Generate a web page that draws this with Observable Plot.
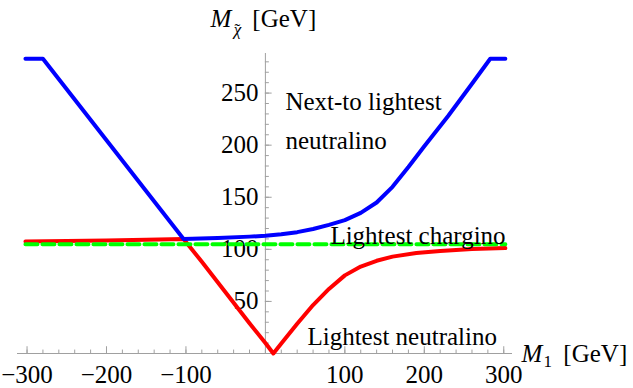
<!DOCTYPE html>
<html>
<head>
<meta charset="utf-8">
<script src="https://cdn.jsdelivr.net/npm/d3@7"></script>
<script src="https://cdn.jsdelivr.net/npm/@observablehq/plot@0.6"></script>
<style>
  html, body { margin: 0; padding: 0; background: #fff; }
  #chart svg { display: block; }
  #chart svg text, #chart svg g, svg[class] text { font-family: "Liberation Serif", serif !important; }
</style>
</head>
<body>
<div id="chart"></div>
<script>
// Next-to-lightest neutralino (blue)
const blueM1   = [-302, -280, -103, -60, -20, 0, 20, 40, 60, 80, 100, 120, 140, 160, 180, 200, 230, 260, 283, 302];
const blueMass = [283, 283, 110, 110.8, 112.2, 113, 114.5, 116.5, 119.5, 123.5, 128, 135, 145, 160, 179, 199, 228, 259, 283, 283];
// Lightest neutralino (red)
const redM1   = [-302, -250, -200, -150, -103, -80, -50, -20, 0, 10, 20, 40, 60, 80, 100, 120, 140, 160, 190, 220, 260, 302];
const redMass = [107.5, 108, 108.5, 109.2, 110, 88, 58.5, 29, 10, 0, 9.5, 28.5, 46.5, 62, 75, 83.5, 89, 93, 96.5, 98.5, 100.3, 101.2];
// Lightest chargino (green, dashed)
const charginoM1   = [-302, 302];
const charginoMass = [105, 105];

const xTicks = [-300, -200, -100, 100, 200, 300];
const xTickLabels = ["\u2212300", "\u2212200", "\u2212100", "100", "200", "300"];
const yTicks = [50, 100, 150, 200, 250];
const yTickLabels = ["50", "100", "150", "200", "250"];
const xMinor = d3.range(-300, 301, 20);
const yMinor = d3.range(10, 281, 10);

const toPts = (xs, ys) => xs.map((x, i) => ({x, y: ys[i]}));
const blue = toPts(blueM1, blueMass);
const red = toPts(redM1, redMass);
const green = toPts(charginoM1, charginoMass);

const FONT = "Liberation Serif";
const axisColor = "#a0a0a0";
const fs = 25;

const labels = [
  {x: 25.2, y: 233.3, t: "Next-to lightest"},
  {x: 25.2, y: 196.8, t: "neutralino"},
  {x: 81.8, y: 105.6, t: "Lightest chargino"},
  {x: 52.9, y: 8.6, t: "Lightest neutralino"}
];

const T = (data, opts) => Plot.text(data, {fontFamily: FONT, fill: "#000", textAnchor: "start", lineAnchor: "bottom", fontSize: fs, ...opts});

const chart = Plot.plot({
  width: 633,
  height: 388,
  marginLeft: 17,
  marginRight: 121,
  marginTop: 53,
  marginBottom: 35,
  x: {domain: [-312, 311], axis: null},
  y: {domain: [0, 288], axis: null},
  style: {background: "#fff", overflow: "visible"},
  marks: [
    // axes
    Plot.ruleY([0], {stroke: axisColor, strokeWidth: 1}),
    Plot.ruleX([0], {stroke: axisColor, strokeWidth: 1}),
    Plot.ruleX(xMinor, {x: d => d, y1: 0, y2: 3.3, stroke: axisColor}),
    Plot.ruleX(xTicks, {x: d => d, y1: 0, y2: 6.5, stroke: axisColor}),
    Plot.ruleY(yMinor, {y: d => d, x1: 0, x2: 5, stroke: axisColor}),
    Plot.ruleY(yTicks, {y: d => d, x1: 0, x2: 8.5, stroke: axisColor}),
    T(xTicks, {x: d => d, y: 0, text: (d, i) => xTickLabels[i], dy: 29, textAnchor: "middle"}),
    T(yTicks, {x: 0, y: d => d, text: (d, i) => yTickLabels[i], dx: -7, textAnchor: "end", lineAnchor: "middle"}),
    // curves
    Plot.line(red, {x: "x", y: "y", stroke: "#ff0000", strokeWidth: 4}),
    Plot.line(blue, {x: "x", y: "y", stroke: "#0000ff", strokeWidth: 4}),
    Plot.line(green, {x: "x", y: "y", stroke: "#00ff00", strokeWidth: 4, strokeDasharray: "12,5"}),
    // annotations
    T(labels, {x: "x", y: "y", text: "t"}),
    // x-axis label: M_1 [GeV]
    T([0], {x: 322.2, y: -8.6, text: () => "M", fontStyle: "italic"}),
    T([0], {x: 349.9, y: -13.4, text: () => "1", fontSize: 17}),
    T([0], {x: 375, y: -8.6, text: () => "[GeV]"}),
    // y-axis label: M_chi~ [GeV]
    T([0], {x: -69, y: 313, text: () => "M", fontStyle: "italic"}),
    T([0], {x: -35.2, y: 306.2, text: () => "\u03C7", textAnchor: "middle", fontSize: 17, fontStyle: "italic"}),
    T([0], {x: -35.2, y: 306.2, text: () => "\u02DC", textAnchor: "middle", fontSize: 17}),
    T([0], {x: -16.4, y: 313, text: () => "[GeV]"})
  ]
});
chart.setAttribute("font-family", FONT);
chart.style.setProperty("font-family", "'Liberation Serif', serif", "important");
chart.querySelectorAll("g, text, tspan").forEach(el => {
  el.setAttribute("font-family", FONT);
  el.style.setProperty("font-family", "'Liberation Serif', serif", "important");
});
document.getElementById("chart").appendChild(chart);
</script>
</body>
</html>
